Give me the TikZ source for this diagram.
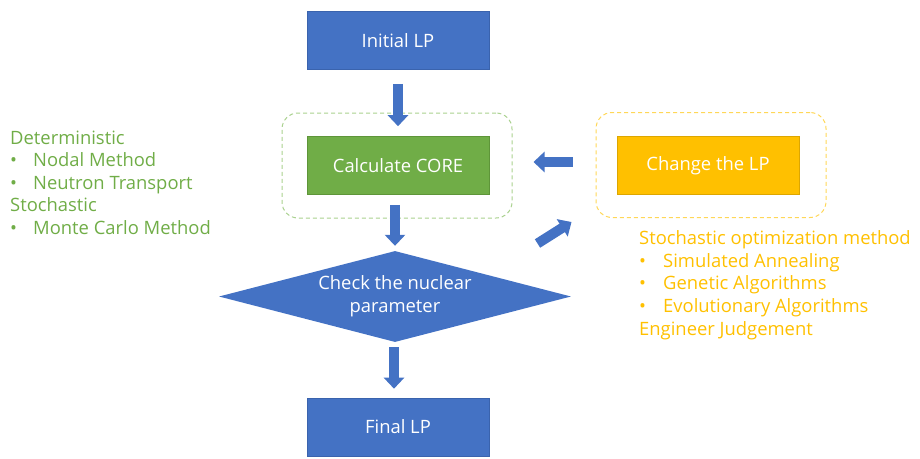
\documentclass[tikz,border=0pt]{standalone}
\usepackage{fontspec}
\setmainfont{Open Sans}
\usetikzlibrary{arrows.meta,shapes.geometric}
\definecolor{boxblue}{HTML}{4472C4}
\definecolor{boxblueline}{HTML}{3A63AD}
\definecolor{boxgreen}{HTML}{70AD47}
\definecolor{boxgreenline}{HTML}{5E9539}
\definecolor{boxorange}{HTML}{FFC000}
\definecolor{boxorangeline}{HTML}{DDA600}
\definecolor{framegreen}{HTML}{A9D18E}
\definecolor{frameorange}{HTML}{FFD757}
\begin{document}
\begin{tikzpicture}[x=1pt,y=-1pt,
  every node/.style={font=\fontsize{18.4}{23}\selectfont},
  stepbox/.style={draw=boxblueline,fill=boxblue,line width=0.6pt,text=white,
    minimum width=182pt,minimum height=58pt,inner sep=0pt},
  frame/.style={draw,dashed,dash pattern=on 4pt off 3pt,line width=1pt,
    rounded corners=16pt,minimum width=230pt,minimum height=105pt,inner sep=0pt},
  blk/.style={draw=boxblue,line width=10pt,line cap=butt,
    -{Triangle[width=20pt,length=11pt]}},
  greentxt/.style={text=boxgreen,anchor=base west,inner sep=0pt},
  orangetxt/.style={text=boxorange,anchor=base west,inner sep=0pt}]
\useasboundingbox (0,0) rectangle (920,458);

% main flow boxes
\node[stepbox] (init) at (398,40.5) {Initial LP};
\node[frame,draw=framegreen] (gframe) at (397,165.5) {};
\node[stepbox,fill=boxgreen,draw=boxgreenline] (core) at (398,165.5) {Calculate CORE};
\node[frame,draw=frameorange] (oframe) at (711,165) {};
\node[stepbox,fill=boxorange,draw=boxorangeline] (chg) at (708,165.5) {Change the LP};
\node[diamond,fill=boxblue,text=white,aspect=3.87,inner sep=0pt,
  minimum width=352pt,minimum height=91pt,align=center] (chk) at (395,296.5)
  {Check the nuclear\\parameter};
\node[stepbox] (final) at (398,427) {Final LP};

% block arrows
\draw[blk] ([yshift=-14pt]init.south) -- ([yshift=10pt]core.north);
\draw[blk] ([xshift=-3pt,yshift=-10pt]core.south) -- ([yshift=5pt]chk.north);
\draw[blk] ([xshift=-1pt,yshift=-5pt]chk.south) -- ([xshift=-4pt,yshift=9pt]final.north);
\draw[blk] ([xshift=-23pt,yshift=3pt]oframe.west) -- ([xshift=21pt,yshift=3.5pt]gframe.east);
\draw[blk] ([xshift=25pt,yshift=-25pt]gframe.south east) -- ([xshift=-24pt,yshift=-4pt]oframe.south west);

% core calculation methods
\node[greentxt] (det) at (10,144) {Deterministic};
\node[greentxt] (nodal) at (10,166.5) {\makebox[23pt][l]{•}Nodal Method};
\node[greentxt] (neut) at (10,189) {\makebox[23pt][l]{•}Neutron Transport};
\node[greentxt] (stoch) at (10,211.5) {Stochastic};
\node[greentxt] (monte) at (10,234) {\makebox[23pt][l]{•}Monte Carlo Method};

% loading pattern search methods
\node[orangetxt] (sto) at (639,244.5) {Stochastic optimization method};
\node[orangetxt] (sa) at (639,267.2) {\makebox[24pt][l]{•}Simulated Annealing};
\node[orangetxt] (ga) at (639,289.9) {\makebox[24pt][l]{•}Genetic Algorithms};
\node[orangetxt] (ea) at (639,312.6) {\makebox[24pt][l]{•}Evolutionary Algorithms};
\node[orangetxt] (eng) at (639,335.3) {Engineer Judgement};
\end{tikzpicture}
\end{document}
